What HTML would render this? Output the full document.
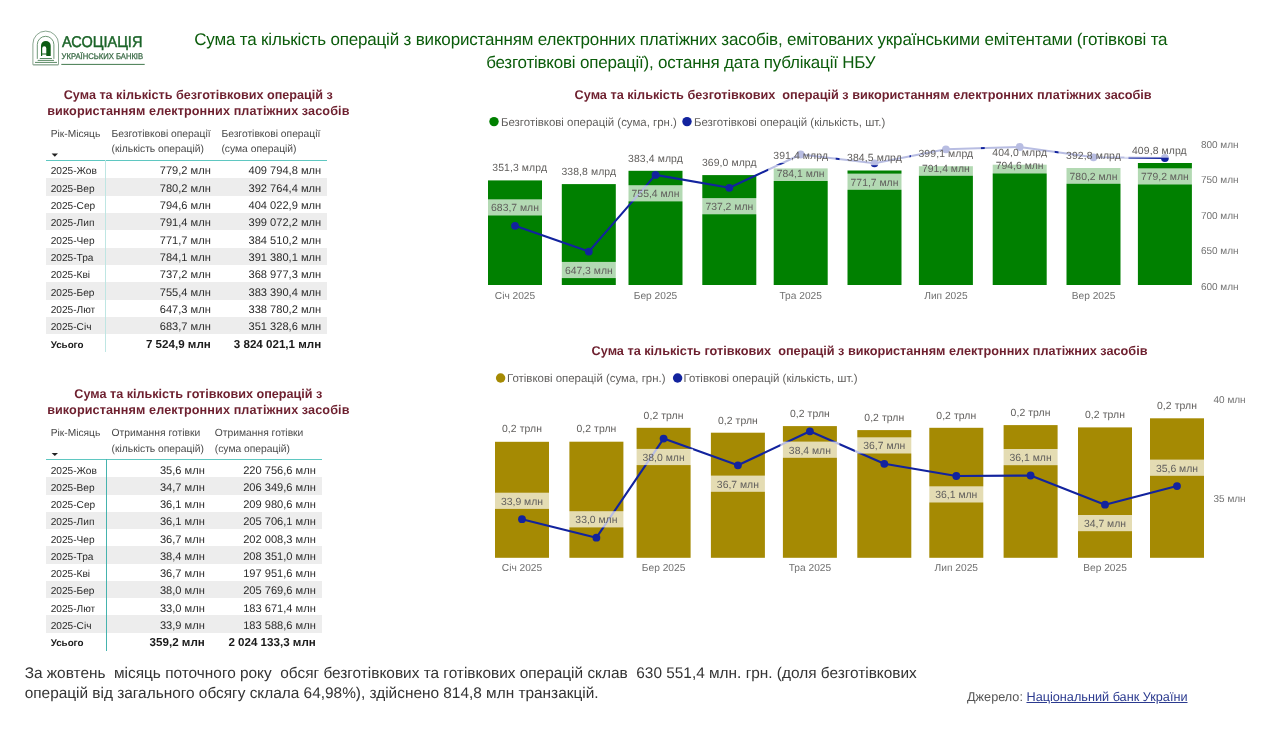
<!DOCTYPE html>
<html lang="uk"><head><meta charset="utf-8"><title>Сума та кількість операцій з використанням електронних платіжних засобів</title>
<style>
html,body{margin:0;padding:0;background:#fff;}
body{width:1270px;height:731px;position:relative;overflow:hidden;font-family:"Liberation Sans", sans-serif;text-rendering:geometricPrecision;}
.t{position:absolute;white-space:pre;line-height:1;margin:0;padding:0;}
.abs{position:absolute;}
.row{white-space:pre;font-size:11px;overflow:visible;}
svg{position:absolute;left:0;top:0;overflow:visible;}
svg text{font-family:"Liberation Sans", sans-serif;text-rendering:geometricPrecision;}
a{color:#2b3a8f;text-decoration:underline;}
</style></head><body>
<svg width="1270" height="731" viewBox="0 0 1270 731">
<g fill="none">
<path d="M32.9 64.7 V43.9 A12.8 12.8 0 0 1 58.5 43.9 V64.7 Z" stroke="#7d9c84" stroke-width="0.9"/>
<path d="M33.2 65.1 H58.2" stroke="#9db5a2" stroke-width="0.8"/>
<path d="M37.3 58.9 V44.6 A8.3 8.3 0 0 1 53.9 44.6 V58.9" stroke="#3f7549" stroke-width="0.75"/>
<path d="M39.8 58.5 H51.9 M37.7 60.4 H54 M35 62.4 H57" stroke="#2f6b3b" stroke-width="0.8"/>
</g>
<path d="M41 56 V45.8 A4.85 4.85 0 0 1 50.7 45.8 V56 H46.3 V48.3 A2.05 2.05 0 0 0 42.2 48.3 V53.6 H46.3 V54.4 H42.2 V56 Z" fill="#0d5c14"/>
<rect x="61.3" y="63.9" width="83.4" height="0.9" fill="#2f6b3b"/>
<text x="61.9" y="47.1" font-size="15.6" font-weight="400" fill="#1b6428" stroke="#1b6428" stroke-width="0.45" textLength="80.5" lengthAdjust="spacingAndGlyphs">АСОЦІАЦІЯ</text>
<text x="61.6" y="58.7" font-size="8.3" fill="#3a6a46" stroke="#3a6a46" stroke-width="0.28" textLength="81.5" lengthAdjust="spacingAndGlyphs">УКРАЇНСЬКИХ БАНКІВ</text>

</svg>
<div class="t" style="left:180.80px;width:1000px;text-align:center;top:31.21px;font-size:17px;color:#0b5c0b;font-weight:400;letter-spacing:-0.175px;">Сума та кількість операцій з використанням електронних платіжних засобів, емітованих українськими емітентами (готівкові та</div>
<div class="t" style="left:180.80px;width:1000px;text-align:center;top:53.61px;font-size:17px;color:#0b5c0b;font-weight:400;letter-spacing:-0.21px;">безготівкові операції), остання дата публікації НБУ</div>
<div class="t" style="left:-301.70px;width:1000px;text-align:center;top:88.71px;font-size:12.63px;color:#6d1f2e;font-weight:700;">Сума та кількість безготівкових операцій з</div>
<div class="t" style="left:-301.70px;width:1000px;text-align:center;top:104.71px;font-size:12.63px;color:#6d1f2e;font-weight:700;letter-spacing:0.1px;">використанням електронних платіжних засобів</div>
<div class="abs" style="left:46px;top:126.00px;width:281px;height:17px;"></div>
<div class="abs row" style="left:46px;top:126.00px;width:321px;height:17px;line-height:17px;color:#484848;font-weight:400"><span style="display:inline-block;box-sizing:border-box;width:65.60px;text-align:left;padding-left:4.8px;font-size:10.2px">Рік-Місяць</span><span style="display:inline-block;box-sizing:border-box;width:109.80px;text-align:left;padding-left:0px;font-size:10.3px">Безготівкові операції</span><span style="display:inline-block;box-sizing:border-box;width:130.00px;text-align:left;padding-left:0px;font-size:10.3px">Безготівкові операції</span></div>
<div class="abs" style="left:46px;top:141.30px;width:281px;height:17px;"></div>
<div class="abs row" style="left:46px;top:141.30px;width:321px;height:17px;line-height:17px;color:#484848;font-weight:400"><span style="display:inline-block;box-sizing:border-box;width:65.60px;text-align:left;padding-left:4.8px;font-size:10.2px"></span><span style="display:inline-block;box-sizing:border-box;width:109.80px;text-align:left;padding-left:0px;font-size:10.3px">(кількість операцій)</span><span style="display:inline-block;box-sizing:border-box;width:130.00px;text-align:left;padding-left:0px;font-size:10.3px">(сума операцій)</span></div>
<svg width="1270" height="731"><path d="M51.6 153.6 h6.4 l-3.2 3.2 z" fill="#222"/></svg>
<div class="abs" style="left:46px;top:160.1px;width:281px;height:1px;background:#5fc7c1"></div>
<div class="abs" style="left:46px;top:160.90px;width:281px;height:17.33px;"></div>
<div class="abs row" style="left:46px;top:163.20px;width:321px;height:17.33px;line-height:17.33px;color:#2a2a2a;font-weight:400"><span style="display:inline-block;box-sizing:border-box;width:59.00px;text-align:left;padding-left:4.7px;font-size:10.15px">2025-Жов</span><span style="display:inline-block;box-sizing:border-box;width:105.80px;text-align:right;padding-left:0px;font-size:11.1px">779,2 млн</span><span style="display:inline-block;box-sizing:border-box;width:110.40px;text-align:right;padding-left:0px;font-size:11.1px">409 794,8 млн</span></div>
<div class="abs" style="left:46px;top:178.23px;width:281px;height:17.33px;background:#ededed;"></div>
<div class="abs row" style="left:46px;top:180.53px;width:321px;height:17.33px;line-height:17.33px;color:#2a2a2a;font-weight:400"><span style="display:inline-block;box-sizing:border-box;width:59.00px;text-align:left;padding-left:4.7px;font-size:10.15px">2025-Вер</span><span style="display:inline-block;box-sizing:border-box;width:105.80px;text-align:right;padding-left:0px;font-size:11.1px">780,2 млн</span><span style="display:inline-block;box-sizing:border-box;width:110.40px;text-align:right;padding-left:0px;font-size:11.1px">392 764,4 млн</span></div>
<div class="abs" style="left:46px;top:195.56px;width:281px;height:17.33px;"></div>
<div class="abs row" style="left:46px;top:197.86px;width:321px;height:17.33px;line-height:17.33px;color:#2a2a2a;font-weight:400"><span style="display:inline-block;box-sizing:border-box;width:59.00px;text-align:left;padding-left:4.7px;font-size:10.15px">2025-Сер</span><span style="display:inline-block;box-sizing:border-box;width:105.80px;text-align:right;padding-left:0px;font-size:11.1px">794,6 млн</span><span style="display:inline-block;box-sizing:border-box;width:110.40px;text-align:right;padding-left:0px;font-size:11.1px">404 022,9 млн</span></div>
<div class="abs" style="left:46px;top:212.89px;width:281px;height:17.33px;background:#ededed;"></div>
<div class="abs row" style="left:46px;top:215.19px;width:321px;height:17.33px;line-height:17.33px;color:#2a2a2a;font-weight:400"><span style="display:inline-block;box-sizing:border-box;width:59.00px;text-align:left;padding-left:4.7px;font-size:10.15px">2025-Лип</span><span style="display:inline-block;box-sizing:border-box;width:105.80px;text-align:right;padding-left:0px;font-size:11.1px">791,4 млн</span><span style="display:inline-block;box-sizing:border-box;width:110.40px;text-align:right;padding-left:0px;font-size:11.1px">399 072,2 млн</span></div>
<div class="abs" style="left:46px;top:230.22px;width:281px;height:17.33px;"></div>
<div class="abs row" style="left:46px;top:232.52px;width:321px;height:17.33px;line-height:17.33px;color:#2a2a2a;font-weight:400"><span style="display:inline-block;box-sizing:border-box;width:59.00px;text-align:left;padding-left:4.7px;font-size:10.15px">2025-Чер</span><span style="display:inline-block;box-sizing:border-box;width:105.80px;text-align:right;padding-left:0px;font-size:11.1px">771,7 млн</span><span style="display:inline-block;box-sizing:border-box;width:110.40px;text-align:right;padding-left:0px;font-size:11.1px">384 510,2 млн</span></div>
<div class="abs" style="left:46px;top:247.55px;width:281px;height:17.33px;background:#ededed;"></div>
<div class="abs row" style="left:46px;top:249.85px;width:321px;height:17.33px;line-height:17.33px;color:#2a2a2a;font-weight:400"><span style="display:inline-block;box-sizing:border-box;width:59.00px;text-align:left;padding-left:4.7px;font-size:10.15px">2025-Тра</span><span style="display:inline-block;box-sizing:border-box;width:105.80px;text-align:right;padding-left:0px;font-size:11.1px">784,1 млн</span><span style="display:inline-block;box-sizing:border-box;width:110.40px;text-align:right;padding-left:0px;font-size:11.1px">391 380,1 млн</span></div>
<div class="abs" style="left:46px;top:264.88px;width:281px;height:17.33px;"></div>
<div class="abs row" style="left:46px;top:267.18px;width:321px;height:17.33px;line-height:17.33px;color:#2a2a2a;font-weight:400"><span style="display:inline-block;box-sizing:border-box;width:59.00px;text-align:left;padding-left:4.7px;font-size:10.15px">2025-Кві</span><span style="display:inline-block;box-sizing:border-box;width:105.80px;text-align:right;padding-left:0px;font-size:11.1px">737,2 млн</span><span style="display:inline-block;box-sizing:border-box;width:110.40px;text-align:right;padding-left:0px;font-size:11.1px">368 977,3 млн</span></div>
<div class="abs" style="left:46px;top:282.21px;width:281px;height:17.33px;background:#ededed;"></div>
<div class="abs row" style="left:46px;top:284.51px;width:321px;height:17.33px;line-height:17.33px;color:#2a2a2a;font-weight:400"><span style="display:inline-block;box-sizing:border-box;width:59.00px;text-align:left;padding-left:4.7px;font-size:10.15px">2025-Бер</span><span style="display:inline-block;box-sizing:border-box;width:105.80px;text-align:right;padding-left:0px;font-size:11.1px">755,4 млн</span><span style="display:inline-block;box-sizing:border-box;width:110.40px;text-align:right;padding-left:0px;font-size:11.1px">383 390,4 млн</span></div>
<div class="abs" style="left:46px;top:299.54px;width:281px;height:17.33px;"></div>
<div class="abs row" style="left:46px;top:301.84px;width:321px;height:17.33px;line-height:17.33px;color:#2a2a2a;font-weight:400"><span style="display:inline-block;box-sizing:border-box;width:59.00px;text-align:left;padding-left:4.7px;font-size:10.15px">2025-Лют</span><span style="display:inline-block;box-sizing:border-box;width:105.80px;text-align:right;padding-left:0px;font-size:11.1px">647,3 млн</span><span style="display:inline-block;box-sizing:border-box;width:110.40px;text-align:right;padding-left:0px;font-size:11.1px">338 780,2 млн</span></div>
<div class="abs" style="left:46px;top:316.87px;width:281px;height:17.33px;background:#ededed;"></div>
<div class="abs row" style="left:46px;top:319.17px;width:321px;height:17.33px;line-height:17.33px;color:#2a2a2a;font-weight:400"><span style="display:inline-block;box-sizing:border-box;width:59.00px;text-align:left;padding-left:4.7px;font-size:10.15px">2025-Січ</span><span style="display:inline-block;box-sizing:border-box;width:105.80px;text-align:right;padding-left:0px;font-size:11.1px">683,7 млн</span><span style="display:inline-block;box-sizing:border-box;width:110.40px;text-align:right;padding-left:0px;font-size:11.1px">351 328,6 млн</span></div>
<div class="abs" style="left:46px;top:334.20px;width:281px;height:17.33px;"></div>
<div class="abs row" style="left:46px;top:335.80px;width:321px;height:17.33px;line-height:17.33px;color:#1a1a1a;font-weight:700"><span style="display:inline-block;box-sizing:border-box;width:59.00px;text-align:left;padding-left:4.7px;font-size:9.8px">Усього</span><span style="display:inline-block;box-sizing:border-box;width:105.80px;text-align:right;padding-left:0px;font-size:11.6px">7 524,9 млн</span><span style="display:inline-block;box-sizing:border-box;width:110.40px;text-align:right;padding-left:0px;font-size:11.6px">3 824 021,1 млн</span></div>
<div class="abs" style="left:105px;top:160.1px;width:1px;height:192.2px;background:#bfe6e3"></div>
<div class="t" style="left:-301.70px;width:1000px;text-align:center;top:388.01px;font-size:12.63px;color:#6d1f2e;font-weight:700;">Сума та кількість готівкових операцій з</div>
<div class="t" style="left:-301.70px;width:1000px;text-align:center;top:404.01px;font-size:12.63px;color:#6d1f2e;font-weight:700;letter-spacing:0.1px;">використанням електронних платіжних засобів</div>
<div class="abs" style="left:46px;top:425.30px;width:275.5px;height:17px;"></div>
<div class="abs row" style="left:46px;top:425.30px;width:315.5px;height:17px;line-height:17px;color:#484848;font-weight:400"><span style="display:inline-block;box-sizing:border-box;width:65.60px;text-align:left;padding-left:4.8px;font-size:10.2px">Рік-Місяць</span><span style="display:inline-block;box-sizing:border-box;width:103.20px;text-align:left;padding-left:0px;font-size:10.3px">Отримання готівки</span><span style="display:inline-block;box-sizing:border-box;width:130.00px;text-align:left;padding-left:0px;font-size:10.3px">Отримання готівки</span></div>
<div class="abs" style="left:46px;top:440.60px;width:275.5px;height:17px;"></div>
<div class="abs row" style="left:46px;top:440.60px;width:315.5px;height:17px;line-height:17px;color:#484848;font-weight:400"><span style="display:inline-block;box-sizing:border-box;width:65.60px;text-align:left;padding-left:4.8px;font-size:10.2px"></span><span style="display:inline-block;box-sizing:border-box;width:103.20px;text-align:left;padding-left:0px;font-size:10.3px">(кількість операцій)</span><span style="display:inline-block;box-sizing:border-box;width:130.00px;text-align:left;padding-left:0px;font-size:10.3px">(сума операцій)</span></div>
<svg width="1270" height="731"><path d="M51.6 452.9 h6.4 l-3.2 3.2 z" fill="#222"/></svg>
<div class="abs" style="left:46px;top:459.4px;width:275.5px;height:1px;background:#5fc7c1"></div>
<div class="abs" style="left:46px;top:460.20px;width:275.5px;height:17.25px;"></div>
<div class="abs row" style="left:46px;top:462.50px;width:315.5px;height:17.25px;line-height:17.25px;color:#2a2a2a;font-weight:400"><span style="display:inline-block;box-sizing:border-box;width:59.00px;text-align:left;padding-left:4.7px;font-size:10.15px">2025-Жов</span><span style="display:inline-block;box-sizing:border-box;width:99.80px;text-align:right;padding-left:0px;font-size:11.1px">35,6 млн</span><span style="display:inline-block;box-sizing:border-box;width:111.00px;text-align:right;padding-left:0px;font-size:11.1px">220 756,6 млн</span></div>
<div class="abs" style="left:46px;top:477.45px;width:275.5px;height:17.25px;background:#ededed;"></div>
<div class="abs row" style="left:46px;top:479.75px;width:315.5px;height:17.25px;line-height:17.25px;color:#2a2a2a;font-weight:400"><span style="display:inline-block;box-sizing:border-box;width:59.00px;text-align:left;padding-left:4.7px;font-size:10.15px">2025-Вер</span><span style="display:inline-block;box-sizing:border-box;width:99.80px;text-align:right;padding-left:0px;font-size:11.1px">34,7 млн</span><span style="display:inline-block;box-sizing:border-box;width:111.00px;text-align:right;padding-left:0px;font-size:11.1px">206 349,6 млн</span></div>
<div class="abs" style="left:46px;top:494.70px;width:275.5px;height:17.25px;"></div>
<div class="abs row" style="left:46px;top:497.00px;width:315.5px;height:17.25px;line-height:17.25px;color:#2a2a2a;font-weight:400"><span style="display:inline-block;box-sizing:border-box;width:59.00px;text-align:left;padding-left:4.7px;font-size:10.15px">2025-Сер</span><span style="display:inline-block;box-sizing:border-box;width:99.80px;text-align:right;padding-left:0px;font-size:11.1px">36,1 млн</span><span style="display:inline-block;box-sizing:border-box;width:111.00px;text-align:right;padding-left:0px;font-size:11.1px">209 980,6 млн</span></div>
<div class="abs" style="left:46px;top:511.95px;width:275.5px;height:17.25px;background:#ededed;"></div>
<div class="abs row" style="left:46px;top:514.25px;width:315.5px;height:17.25px;line-height:17.25px;color:#2a2a2a;font-weight:400"><span style="display:inline-block;box-sizing:border-box;width:59.00px;text-align:left;padding-left:4.7px;font-size:10.15px">2025-Лип</span><span style="display:inline-block;box-sizing:border-box;width:99.80px;text-align:right;padding-left:0px;font-size:11.1px">36,1 млн</span><span style="display:inline-block;box-sizing:border-box;width:111.00px;text-align:right;padding-left:0px;font-size:11.1px">205 706,1 млн</span></div>
<div class="abs" style="left:46px;top:529.20px;width:275.5px;height:17.25px;"></div>
<div class="abs row" style="left:46px;top:531.50px;width:315.5px;height:17.25px;line-height:17.25px;color:#2a2a2a;font-weight:400"><span style="display:inline-block;box-sizing:border-box;width:59.00px;text-align:left;padding-left:4.7px;font-size:10.15px">2025-Чер</span><span style="display:inline-block;box-sizing:border-box;width:99.80px;text-align:right;padding-left:0px;font-size:11.1px">36,7 млн</span><span style="display:inline-block;box-sizing:border-box;width:111.00px;text-align:right;padding-left:0px;font-size:11.1px">202 008,3 млн</span></div>
<div class="abs" style="left:46px;top:546.45px;width:275.5px;height:17.25px;background:#ededed;"></div>
<div class="abs row" style="left:46px;top:548.75px;width:315.5px;height:17.25px;line-height:17.25px;color:#2a2a2a;font-weight:400"><span style="display:inline-block;box-sizing:border-box;width:59.00px;text-align:left;padding-left:4.7px;font-size:10.15px">2025-Тра</span><span style="display:inline-block;box-sizing:border-box;width:99.80px;text-align:right;padding-left:0px;font-size:11.1px">38,4 млн</span><span style="display:inline-block;box-sizing:border-box;width:111.00px;text-align:right;padding-left:0px;font-size:11.1px">208 351,0 млн</span></div>
<div class="abs" style="left:46px;top:563.70px;width:275.5px;height:17.25px;"></div>
<div class="abs row" style="left:46px;top:566.00px;width:315.5px;height:17.25px;line-height:17.25px;color:#2a2a2a;font-weight:400"><span style="display:inline-block;box-sizing:border-box;width:59.00px;text-align:left;padding-left:4.7px;font-size:10.15px">2025-Кві</span><span style="display:inline-block;box-sizing:border-box;width:99.80px;text-align:right;padding-left:0px;font-size:11.1px">36,7 млн</span><span style="display:inline-block;box-sizing:border-box;width:111.00px;text-align:right;padding-left:0px;font-size:11.1px">197 951,6 млн</span></div>
<div class="abs" style="left:46px;top:580.95px;width:275.5px;height:17.25px;background:#ededed;"></div>
<div class="abs row" style="left:46px;top:583.25px;width:315.5px;height:17.25px;line-height:17.25px;color:#2a2a2a;font-weight:400"><span style="display:inline-block;box-sizing:border-box;width:59.00px;text-align:left;padding-left:4.7px;font-size:10.15px">2025-Бер</span><span style="display:inline-block;box-sizing:border-box;width:99.80px;text-align:right;padding-left:0px;font-size:11.1px">38,0 млн</span><span style="display:inline-block;box-sizing:border-box;width:111.00px;text-align:right;padding-left:0px;font-size:11.1px">205 769,6 млн</span></div>
<div class="abs" style="left:46px;top:598.20px;width:275.5px;height:17.25px;"></div>
<div class="abs row" style="left:46px;top:600.50px;width:315.5px;height:17.25px;line-height:17.25px;color:#2a2a2a;font-weight:400"><span style="display:inline-block;box-sizing:border-box;width:59.00px;text-align:left;padding-left:4.7px;font-size:10.15px">2025-Лют</span><span style="display:inline-block;box-sizing:border-box;width:99.80px;text-align:right;padding-left:0px;font-size:11.1px">33,0 млн</span><span style="display:inline-block;box-sizing:border-box;width:111.00px;text-align:right;padding-left:0px;font-size:11.1px">183 671,4 млн</span></div>
<div class="abs" style="left:46px;top:615.45px;width:275.5px;height:17.25px;background:#ededed;"></div>
<div class="abs row" style="left:46px;top:617.75px;width:315.5px;height:17.25px;line-height:17.25px;color:#2a2a2a;font-weight:400"><span style="display:inline-block;box-sizing:border-box;width:59.00px;text-align:left;padding-left:4.7px;font-size:10.15px">2025-Січ</span><span style="display:inline-block;box-sizing:border-box;width:99.80px;text-align:right;padding-left:0px;font-size:11.1px">33,9 млн</span><span style="display:inline-block;box-sizing:border-box;width:111.00px;text-align:right;padding-left:0px;font-size:11.1px">183 588,6 млн</span></div>
<div class="abs" style="left:46px;top:632.70px;width:275.5px;height:17.25px;"></div>
<div class="abs row" style="left:46px;top:634.30px;width:315.5px;height:17.25px;line-height:17.25px;color:#1a1a1a;font-weight:700"><span style="display:inline-block;box-sizing:border-box;width:59.00px;text-align:left;padding-left:4.7px;font-size:9.8px">Усього</span><span style="display:inline-block;box-sizing:border-box;width:99.80px;text-align:right;padding-left:0px;font-size:11.6px">359,2 млн</span><span style="display:inline-block;box-sizing:border-box;width:111.00px;text-align:right;padding-left:0px;font-size:11.6px">2 024 133,3 млн</span></div>
<div class="abs" style="left:105.5px;top:459.4px;width:1.7px;height:191.3px;background:#45b3ae"></div>
<svg width="1270" height="731" viewBox="0 0 1270 731">
<rect x="488.0" y="180.4" width="54" height="104.6" fill="#008000"/>
<rect x="561.8" y="184.1" width="54" height="100.9" fill="#008000"/>
<rect x="628.5" y="170.8" width="54" height="114.2" fill="#008000"/>
<rect x="702.3" y="175.1" width="54" height="109.9" fill="#008000"/>
<rect x="773.7" y="168.4" width="54" height="116.6" fill="#008000"/>
<rect x="847.5" y="170.5" width="54" height="114.5" fill="#008000"/>
<rect x="918.9" y="166.2" width="54" height="118.8" fill="#008000"/>
<rect x="992.7" y="164.7" width="54" height="120.3" fill="#008000"/>
<rect x="1066.5" y="168.0" width="54" height="117.0" fill="#008000"/>
<rect x="1137.9" y="163.0" width="54" height="122.0" fill="#008000"/>
<polyline fill="none" stroke="#12239e" stroke-width="2.1" stroke-linejoin="round" points="515.0,225.8 588.8,251.6 655.5,174.9 729.3,187.8 800.7,154.5 874.5,163.3 945.9,149.3 1019.7,147.0 1093.5,157.3 1164.9,158.0"/>
<circle cx="515.0" cy="225.8" r="3.9" fill="#12239e"/>
<circle cx="588.8" cy="251.6" r="3.9" fill="#12239e"/>
<circle cx="655.5" cy="174.9" r="3.9" fill="#12239e"/>
<circle cx="729.3" cy="187.8" r="3.9" fill="#12239e"/>
<circle cx="800.7" cy="154.5" r="3.9" fill="#12239e"/>
<circle cx="874.5" cy="163.3" r="3.9" fill="#12239e"/>
<circle cx="945.9" cy="149.3" r="3.9" fill="#12239e"/>
<circle cx="1019.7" cy="147.0" r="3.9" fill="#12239e"/>
<circle cx="1093.5" cy="157.3" r="3.9" fill="#12239e"/>
<circle cx="1164.9" cy="158.0" r="3.9" fill="#12239e"/>
<rect x="484.7" y="158.3" width="70" height="16.8" fill="#fff" fill-opacity="0.7"/>
<text x="519.7" y="171.3" font-size="10.4" letter-spacing="0.11" fill="#605e5c" text-anchor="middle">351,3 млрд</text>
<rect x="553.8" y="162.0" width="70" height="16.8" fill="#fff" fill-opacity="0.7"/>
<text x="588.8" y="175.0" font-size="10.4" letter-spacing="0.11" fill="#605e5c" text-anchor="middle">338,8 млрд</text>
<rect x="620.5" y="148.7" width="70" height="16.8" fill="#fff" fill-opacity="0.7"/>
<text x="655.5" y="161.7" font-size="10.4" letter-spacing="0.11" fill="#605e5c" text-anchor="middle">383,4 млрд</text>
<rect x="694.3" y="153.0" width="70" height="16.8" fill="#fff" fill-opacity="0.7"/>
<text x="729.3" y="166.0" font-size="10.4" letter-spacing="0.11" fill="#605e5c" text-anchor="middle">369,0 млрд</text>
<rect x="765.7" y="146.3" width="70" height="16.8" fill="#fff" fill-opacity="0.7"/>
<text x="800.7" y="159.3" font-size="10.4" letter-spacing="0.11" fill="#605e5c" text-anchor="middle">391,4 млрд</text>
<rect x="839.5" y="148.4" width="70" height="16.8" fill="#fff" fill-opacity="0.7"/>
<text x="874.5" y="161.4" font-size="10.4" letter-spacing="0.11" fill="#605e5c" text-anchor="middle">384,5 млрд</text>
<rect x="910.9" y="144.1" width="70" height="16.8" fill="#fff" fill-opacity="0.7"/>
<text x="945.9" y="157.1" font-size="10.4" letter-spacing="0.11" fill="#605e5c" text-anchor="middle">399,1 млрд</text>
<rect x="984.7" y="142.6" width="70" height="16.8" fill="#fff" fill-opacity="0.7"/>
<text x="1019.7" y="155.6" font-size="10.4" letter-spacing="0.11" fill="#605e5c" text-anchor="middle">404,0 млрд</text>
<rect x="1058.5" y="145.9" width="70" height="16.8" fill="#fff" fill-opacity="0.7"/>
<text x="1093.5" y="158.9" font-size="10.4" letter-spacing="0.11" fill="#605e5c" text-anchor="middle">392,8 млрд</text>
<rect x="1124.4" y="140.9" width="70" height="16.8" fill="#fff" fill-opacity="0.7"/>
<text x="1159.4" y="153.9" font-size="10.4" letter-spacing="0.11" fill="#605e5c" text-anchor="middle">409,8 млрд</text>
<rect x="482.5" y="199.3" width="65" height="16.2" fill="#fff" fill-opacity="0.7"/>
<text x="515.0" y="211.3" font-size="10.4" fill="#605e5c" text-anchor="middle">683,7 млн</text>
<rect x="556.3" y="261.9" width="65" height="16.2" fill="#fff" fill-opacity="0.7"/>
<text x="588.8" y="273.9" font-size="10.4" fill="#605e5c" text-anchor="middle">647,3 млн</text>
<rect x="623.0" y="185.2" width="65" height="16.2" fill="#fff" fill-opacity="0.7"/>
<text x="655.5" y="197.2" font-size="10.4" fill="#605e5c" text-anchor="middle">755,4 млн</text>
<rect x="696.8" y="198.1" width="65" height="16.2" fill="#fff" fill-opacity="0.7"/>
<text x="729.3" y="210.1" font-size="10.4" fill="#605e5c" text-anchor="middle">737,2 млн</text>
<rect x="768.2" y="164.8" width="65" height="16.2" fill="#fff" fill-opacity="0.7"/>
<text x="800.7" y="176.8" font-size="10.4" fill="#605e5c" text-anchor="middle">784,1 млн</text>
<rect x="842.0" y="173.6" width="65" height="16.2" fill="#fff" fill-opacity="0.7"/>
<text x="874.5" y="185.6" font-size="10.4" fill="#605e5c" text-anchor="middle">771,7 млн</text>
<rect x="913.4" y="159.6" width="65" height="16.2" fill="#fff" fill-opacity="0.7"/>
<text x="945.9" y="171.6" font-size="10.4" fill="#605e5c" text-anchor="middle">791,4 млн</text>
<rect x="987.2" y="157.3" width="65" height="16.2" fill="#fff" fill-opacity="0.7"/>
<text x="1019.7" y="169.3" font-size="10.4" fill="#605e5c" text-anchor="middle">794,6 млн</text>
<rect x="1061.0" y="167.6" width="65" height="16.2" fill="#fff" fill-opacity="0.7"/>
<text x="1093.5" y="179.6" font-size="10.4" fill="#605e5c" text-anchor="middle">780,2 млн</text>
<rect x="1132.4" y="168.3" width="65" height="16.2" fill="#fff" fill-opacity="0.7"/>
<text x="1164.9" y="180.3" font-size="10.4" fill="#605e5c" text-anchor="middle">779,2 млн</text>
<text x="515.0" y="298.9" font-size="10.2" fill="#717171" text-anchor="middle">Січ 2025</text>
<text x="655.5" y="298.9" font-size="10.2" fill="#717171" text-anchor="middle">Бер 2025</text>
<text x="800.7" y="298.9" font-size="10.2" fill="#717171" text-anchor="middle">Тра 2025</text>
<text x="945.9" y="298.9" font-size="10.2" fill="#717171" text-anchor="middle">Лип 2025</text>
<text x="1093.5" y="298.9" font-size="10.2" fill="#717171" text-anchor="middle">Вер 2025</text>
<text x="1200.9" y="148.0" font-size="10" fill="#717171">800 млн</text>
<text x="1200.9" y="183.4" font-size="10" fill="#717171">750 млн</text>
<text x="1200.9" y="218.9" font-size="10" fill="#717171">700 млн</text>
<text x="1200.9" y="254.3" font-size="10" fill="#717171">650 млн</text>
<text x="1200.9" y="289.8" font-size="10" fill="#717171">600 млн</text>
<circle cx="494" cy="121.6" r="4.7" fill="#008000"/><circle cx="687" cy="121.6" r="4.7" fill="#12239e"/>
<text x="501" y="125.6" font-size="11.45" fill="#605e5c">Безготівкові операцій (сума, грн.)</text>
<text x="694" y="125.6" font-size="11.45" fill="#605e5c">Безготівкові операцій (кількість, шт.)</text>
</svg>
<div class="t" style="left:574.60px;top:89.45px;font-size:12.7px;color:#6d1f2e;font-weight:700;">Сума та кількість безготівкових  операцій з використанням електронних платіжних засобів</div>
<svg width="1270" height="731" viewBox="0 0 1270 731">
<rect x="495.0" y="441.8" width="54" height="116.0" fill="#a58a03"/>
<rect x="569.4" y="441.7" width="54" height="116.1" fill="#a58a03"/>
<rect x="636.6" y="427.8" width="54" height="130.0" fill="#a58a03"/>
<rect x="710.9" y="432.7" width="54" height="125.1" fill="#a58a03"/>
<rect x="782.9" y="426.1" width="54" height="131.7" fill="#a58a03"/>
<rect x="857.3" y="430.1" width="54" height="127.7" fill="#a58a03"/>
<rect x="929.3" y="427.8" width="54" height="130.0" fill="#a58a03"/>
<rect x="1003.6" y="425.1" width="54" height="132.7" fill="#a58a03"/>
<rect x="1078.0" y="427.4" width="54" height="130.4" fill="#a58a03"/>
<rect x="1150.0" y="418.3" width="54" height="139.5" fill="#a58a03"/>
<polyline fill="none" stroke="#12239e" stroke-width="2.1" stroke-linejoin="round" points="522.0,519.2 596.4,537.7 663.6,438.6 737.9,465.3 809.9,431.3 884.3,463.8 956.3,476.0 1030.6,475.5 1105.0,504.7 1177.0,486.1"/>
<circle cx="522.0" cy="519.2" r="3.9" fill="#12239e"/>
<circle cx="596.4" cy="537.7" r="3.9" fill="#12239e"/>
<circle cx="663.6" cy="438.6" r="3.9" fill="#12239e"/>
<circle cx="737.9" cy="465.3" r="3.9" fill="#12239e"/>
<circle cx="809.9" cy="431.3" r="3.9" fill="#12239e"/>
<circle cx="884.3" cy="463.8" r="3.9" fill="#12239e"/>
<circle cx="956.3" cy="476.0" r="3.9" fill="#12239e"/>
<circle cx="1030.6" cy="475.5" r="3.9" fill="#12239e"/>
<circle cx="1105.0" cy="504.7" r="3.9" fill="#12239e"/>
<circle cx="1177.0" cy="486.1" r="3.9" fill="#12239e"/>
<rect x="493.5" y="419.0" width="57" height="16.8" fill="#fff" fill-opacity="0.7"/>
<text x="522.0" y="432.0" font-size="10.4" letter-spacing="0.09" fill="#605e5c" text-anchor="middle">0,2 трлн</text>
<rect x="567.9" y="418.9" width="57" height="16.8" fill="#fff" fill-opacity="0.7"/>
<text x="596.4" y="431.9" font-size="10.4" letter-spacing="0.09" fill="#605e5c" text-anchor="middle">0,2 трлн</text>
<rect x="635.1" y="405.7" width="57" height="16.8" fill="#fff" fill-opacity="0.7"/>
<text x="663.6" y="418.7" font-size="10.4" letter-spacing="0.09" fill="#605e5c" text-anchor="middle">0,2 трлн</text>
<rect x="709.4" y="410.6" width="57" height="16.8" fill="#fff" fill-opacity="0.7"/>
<text x="737.9" y="423.6" font-size="10.4" letter-spacing="0.09" fill="#605e5c" text-anchor="middle">0,2 трлн</text>
<rect x="781.4" y="404.0" width="57" height="16.8" fill="#fff" fill-opacity="0.7"/>
<text x="809.9" y="417.0" font-size="10.4" letter-spacing="0.09" fill="#605e5c" text-anchor="middle">0,2 трлн</text>
<rect x="855.8" y="408.0" width="57" height="16.8" fill="#fff" fill-opacity="0.7"/>
<text x="884.3" y="421.0" font-size="10.4" letter-spacing="0.09" fill="#605e5c" text-anchor="middle">0,2 трлн</text>
<rect x="927.8" y="405.7" width="57" height="16.8" fill="#fff" fill-opacity="0.7"/>
<text x="956.3" y="418.7" font-size="10.4" letter-spacing="0.09" fill="#605e5c" text-anchor="middle">0,2 трлн</text>
<rect x="1002.1" y="403.0" width="57" height="16.8" fill="#fff" fill-opacity="0.7"/>
<text x="1030.6" y="416.0" font-size="10.4" letter-spacing="0.09" fill="#605e5c" text-anchor="middle">0,2 трлн</text>
<rect x="1076.5" y="405.3" width="57" height="16.8" fill="#fff" fill-opacity="0.7"/>
<text x="1105.0" y="418.3" font-size="10.4" letter-spacing="0.09" fill="#605e5c" text-anchor="middle">0,2 трлн</text>
<rect x="1148.5" y="396.2" width="57" height="16.8" fill="#fff" fill-opacity="0.7"/>
<text x="1177.0" y="409.2" font-size="10.4" letter-spacing="0.09" fill="#605e5c" text-anchor="middle">0,2 трлн</text>
<rect x="492.5" y="492.7" width="59" height="16.2" fill="#fff" fill-opacity="0.7"/>
<text x="522.0" y="504.7" font-size="10.4" fill="#605e5c" text-anchor="middle">33,9 млн</text>
<rect x="566.9" y="511.2" width="59" height="16.2" fill="#fff" fill-opacity="0.7"/>
<text x="596.4" y="523.2" font-size="10.4" fill="#605e5c" text-anchor="middle">33,0 млн</text>
<rect x="634.1" y="448.9" width="59" height="16.2" fill="#fff" fill-opacity="0.7"/>
<text x="663.6" y="460.9" font-size="10.4" fill="#605e5c" text-anchor="middle">38,0 млн</text>
<rect x="708.4" y="475.6" width="59" height="16.2" fill="#fff" fill-opacity="0.7"/>
<text x="737.9" y="487.6" font-size="10.4" fill="#605e5c" text-anchor="middle">36,7 млн</text>
<rect x="780.4" y="441.6" width="59" height="16.2" fill="#fff" fill-opacity="0.7"/>
<text x="809.9" y="453.6" font-size="10.4" fill="#605e5c" text-anchor="middle">38,4 млн</text>
<rect x="854.8" y="437.3" width="59" height="16.2" fill="#fff" fill-opacity="0.7"/>
<text x="884.3" y="449.3" font-size="10.4" fill="#605e5c" text-anchor="middle">36,7 млн</text>
<rect x="926.8" y="486.3" width="59" height="16.2" fill="#fff" fill-opacity="0.7"/>
<text x="956.3" y="498.3" font-size="10.4" fill="#605e5c" text-anchor="middle">36,1 млн</text>
<rect x="1001.1" y="449.0" width="59" height="16.2" fill="#fff" fill-opacity="0.7"/>
<text x="1030.6" y="461.0" font-size="10.4" fill="#605e5c" text-anchor="middle">36,1 млн</text>
<rect x="1075.5" y="515.0" width="59" height="16.2" fill="#fff" fill-opacity="0.7"/>
<text x="1105.0" y="527.0" font-size="10.4" fill="#605e5c" text-anchor="middle">34,7 млн</text>
<rect x="1147.5" y="459.6" width="59" height="16.2" fill="#fff" fill-opacity="0.7"/>
<text x="1177.0" y="471.6" font-size="10.4" fill="#605e5c" text-anchor="middle">35,6 млн</text>
<text x="522.0" y="571" font-size="10.2" fill="#717171" text-anchor="middle">Січ 2025</text>
<text x="663.6" y="571" font-size="10.2" fill="#717171" text-anchor="middle">Бер 2025</text>
<text x="809.9" y="571" font-size="10.2" fill="#717171" text-anchor="middle">Тра 2025</text>
<text x="956.3" y="571" font-size="10.2" fill="#717171" text-anchor="middle">Лип 2025</text>
<text x="1105.0" y="571" font-size="10.2" fill="#717171" text-anchor="middle">Вер 2025</text>
<text x="1213.5" y="403.0" font-size="10" fill="#717171">40 млн</text>
<text x="1213.5" y="502.0" font-size="10" fill="#717171">35 млн</text>
<circle cx="500.6" cy="378" r="4.7" fill="#a58a03"/><circle cx="677.6" cy="378" r="4.7" fill="#12239e"/>
<text x="507" y="382.0" font-size="11.45" fill="#605e5c">Готівкові операцій (сума, грн.)</text>
<text x="683.6" y="382.0" font-size="11.45" fill="#605e5c">Готівкові операцій (кількість, шт.)</text>
</svg>
<div class="t" style="left:591.60px;top:345.45px;font-size:12.7px;color:#6d1f2e;font-weight:700;">Сума та кількість готівкових  операцій з використанням електронних платіжних засобів</div>
<div class="t" style="left:24.70px;top:666.26px;font-size:15.4px;color:#333;font-weight:400;">За жовтень  місяць поточного року  обсяг безготівкових та готівкових операцій склав  630 551,4 млн. грн. (доля безготівкових</div>
<div class="t" style="left:24.70px;top:685.56px;font-size:15.4px;color:#333;font-weight:400;">операцій від загального обсягу склала 64,98%), здійснено 814,8 млн транзакцій.</div>
<div class="t" style="left:967.00px;top:691.05px;font-size:12.7px;color:#555;font-weight:400;">Джерело: <a>Національний банк України</a></div>
</body></html>
